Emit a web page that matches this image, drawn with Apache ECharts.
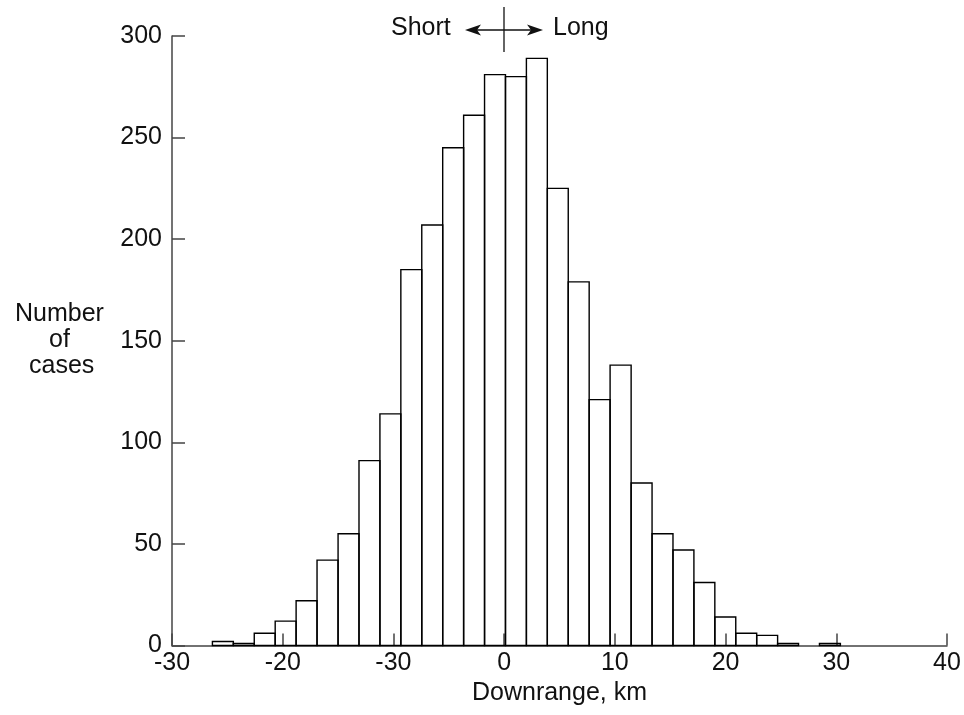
<!DOCTYPE html>
<html>
<head>
<meta charset="utf-8">
<script src="https://cdn.jsdelivr.net/npm/echarts@6/dist/echarts.min.js"></script>
<style>
html,body{margin:0;padding:0;background:#fff;}
#c{width:964px;height:715px;}
</style>
</head>
<body>
<div id="c"></div>
<script>
// Bin edges (km)
var binEdges = [-26.35, -24.46, -22.57, -20.68, -18.79, -16.90, -15.00, -13.11, -11.22, -9.33,
  -7.44, -5.55, -3.66, -1.77, 0.12, 2.01, 3.90, 5.79, 7.68, 9.57,
  11.47, 13.36, 15.25, 17.14, 19.03, 20.92, 22.81, 24.70, 26.59, 28.48, 30.37];
// Number of cases per bin
var counts = [2, 1, 6, 12, 22, 42, 55, 91, 114, 185,
  207, 245, 261, 281, 280, 289, 225, 179, 121, 138,
  80, 55, 47, 31, 14, 6, 5, 1, 0, 1];
// Tick labels as printed in the figure
var xTickLabels = ['-30', '-20', '-30', '0', '10', '20', '30', '40'];
var yTickLabels = ['0', '50', '100', '150', '200', '250', '300'];

var FONT = 'Liberation Sans, Arial, Helvetica, sans-serif';
var FS = 25;
var data = [];
for (var i = 0; i < counts.length; i++) {
  if (counts[i] > 0) data.push([binEdges[i], binEdges[i + 1], counts[i]]);
}

var chart = echarts.init(document.getElementById('c'));
chart.setOption({
  animation: false,
  backgroundColor: '#fff',
  grid: {left: 172, right: 17, top: 36, bottom: 69.5, containLabel: false},
  xAxis: {
    type: 'value', min: -30, max: 40, interval: 10,
    splitLine: {show: false},
    axisLine: {onZero: false, lineStyle: {color: '#444', width: 1.5}},
    axisTick: {inside: true, length: 12, lineStyle: {color: '#444', width: 1.5}},
    axisLabel: {
      margin: 5, color: '#111', fontSize: FS, fontFamily: FONT,
      formatter: function (v) { return xTickLabels[Math.round((v + 30) / 10)]; }
    },
    name: 'Downrange, km', nameLocation: 'middle', nameGap: 34,
    nameTextStyle: {color: '#111', fontSize: FS, fontFamily: FONT}
  },
  yAxis: {
    type: 'value', min: 0, max: 300, interval: 50,
    splitLine: {show: false},
    axisLine: {show: true, onZero: false, lineStyle: {color: '#444', width: 1.5}},
    axisTick: {show: true, inside: true, length: 13, lineStyle: {color: '#444', width: 1.5}},
    axisLabel: {
      margin: 10, color: '#111', fontSize: FS, fontFamily: FONT,
      formatter: function (v) { return yTickLabels[Math.round(v / 50)]; }
    }
  },
  series: [{
    type: 'custom',
    data: data,
    encode: {x: [0, 1], y: 2},
    renderItem: function (params, api) {
      var p0 = api.coord([api.value(0), api.value(2)]);
      var p1 = api.coord([api.value(1), 0]);
      return {
        type: 'rect',
        shape: {x: p0[0], y: p0[1], width: p1[0] - p0[0], height: p1[1] - p0[1]},
        style: {fill: 'none', stroke: '#000', lineWidth: 1.4}
      };
    }
  }],
  graphic: [
    {type: 'text', left: 15, top: 302, style: {text: 'Number', font: FS + 'px ' + FONT, fill: '#111'}},
    {type: 'text', left: 49, top: 328, style: {text: 'of', font: FS + 'px ' + FONT, fill: '#111'}},
    {type: 'text', left: 29, top: 354, style: {text: 'cases', font: FS + 'px ' + FONT, fill: '#111'}},
    {type: 'text', left: 391, top: 16, style: {text: 'Short', font: FS + 'px ' + FONT, fill: '#111'}},
    {type: 'text', left: 553, top: 16, style: {text: 'Long', font: FS + 'px ' + FONT, fill: '#111'}},
    {type: 'line', shape: {x1: 504, y1: 7, x2: 504, y2: 52}, style: {stroke: '#111', lineWidth: 1.3}},
    {type: 'line', shape: {x1: 468, y1: 30, x2: 540, y2: 30}, style: {stroke: '#111', lineWidth: 1.3}},
    {type: 'polygon', shape: {points: [[465, 30], [481, 24.5], [477, 30], [481, 35.5]]}, style: {fill: '#111'}},
    {type: 'polygon', shape: {points: [[543, 30], [527, 24.5], [531, 30], [527, 35.5]]}, style: {fill: '#111'}}
  ]
});
</script>
</body>
</html>
